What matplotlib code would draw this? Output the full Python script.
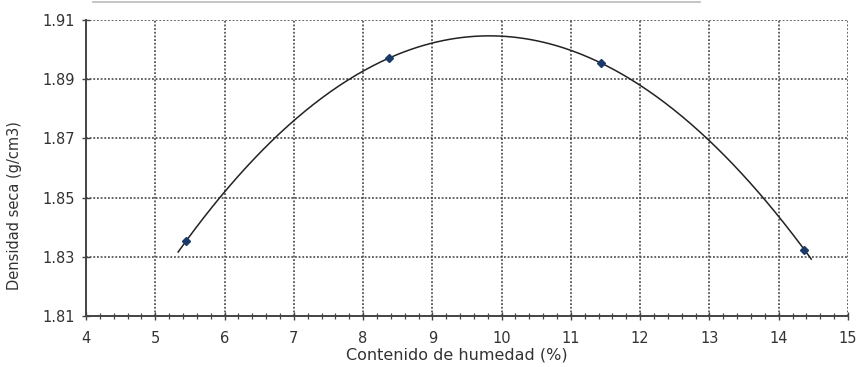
import numpy as np
import matplotlib
matplotlib.use("Agg")
import matplotlib.pyplot as plt
from matplotlib.lines import Line2D
from matplotlib.ticker import MultipleLocator

plt.rcParams['font.family'] = ['DejaVu Sans']

# Proctor test results
humedad = [5.45, 8.38, 11.44, 14.37]        # moisture content (%)
densidad = [1.8355, 1.8972, 1.8954, 1.8324]  # dry density (g/cm3)

x_ticks = [4, 5, 6, 7, 8, 9, 10, 11, 12, 13, 14, 15]
y_ticks = [1.81, 1.83, 1.85, 1.87, 1.89, 1.91]
y_labels = ["1.81", "1.83", "1.85", "1.87", "1.89", "1.91"]

fig = plt.figure(figsize=(8.59, 3.67), dpi=100)
ax = fig.add_axes([86 / 859, 1 - 316 / 367, (848 - 86) / 859, (316 - 20) / 367])

# Polynomial trend line through the measured points
coef = np.polyfit(humedad, densidad, 3)
xs = np.linspace(humedad[0] - 0.12, humedad[-1] + 0.1, 300)
ax.plot(xs, np.polyval(coef, xs), color="#222222", lw=1.1, zorder=3)
ax.plot(humedad, densidad, "D", color="#1a3a6a", ms=4, zorder=4)

ax.set_xlim(4, 15)
ax.set_ylim(1.81, 1.91)
ax.set_xticks(x_ticks)
ax.set_yticks(y_ticks)
ax.set_yticklabels(y_labels)
ax.xaxis.set_minor_locator(MultipleLocator(0.2))

ax.grid(True, which="major", color="#3a3a3a", linestyle=(0, (1.2, 1.2)), lw=1.1)
ax.set_axisbelow(True)

for side in ("top", "right"):
    ax.spines[side].set_visible(False)
for side in ("left", "bottom"):
    ax.spines[side].set_color("#444444")
    ax.spines[side].set_linewidth(1.4)

ax.tick_params(axis="both", which="major", direction="inout", length=6,
               width=1.0, color="#444444", labelsize=10.5, labelcolor="#333333")
ax.tick_params(axis="x", which="minor", direction="inout", length=4,
               width=0.9, color="#444444")
ax.tick_params(axis="x", pad=8)
ax.tick_params(axis="y", pad=5)

ax.set_xlabel("Contenido de humedad (%)", fontsize=11.5, color="#333333")
ax.set_ylabel("Densidad seca (g/cm3)", fontsize=10.5, color="#333333")
ax.xaxis.set_label_coords(0.487, -0.105)
ax.yaxis.set_label_coords(-0.084, 0.372)

# thin frame edge along the top of the page
fig.add_artist(Line2D([93 / 859, 700 / 859], [1 - 1.5 / 367, 1 - 1.5 / 367],
                      color="#bbbbbb", lw=1.2, transform=fig.transFigure))

fig.savefig("out.png", dpi=100, facecolor="white")
